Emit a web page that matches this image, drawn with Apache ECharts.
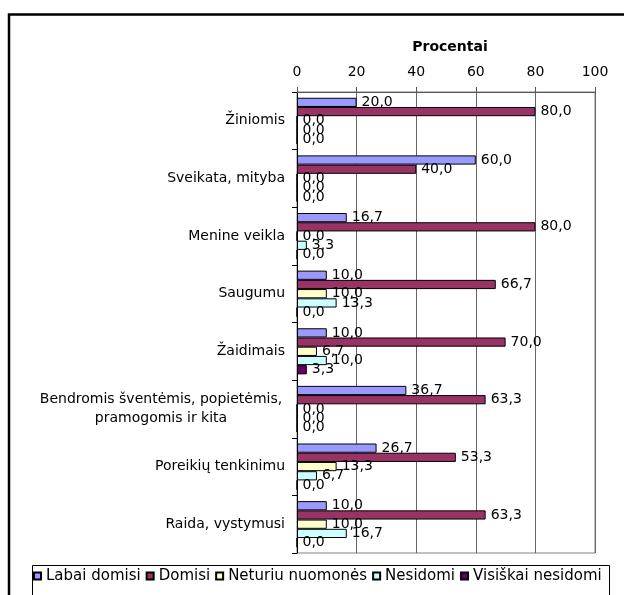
<!DOCTYPE html>
<html>
<head>
<meta charset="utf-8">
<script src="https://cdn.jsdelivr.net/npm/echarts@6/dist/echarts.min.js"></script>
<style>html,body{margin:0;padding:0;background:#fff}#c{width:624px;height:595px}</style>
</head>
<body>
<div id="c"></div>
<script>
const categories = [
  'Žiniomis',
  'Sveikata, mityba',
  'Menine veikla',
  'Saugumu',
  'Žaidimais',
  'Bendromis šventėmis, popietėmis,\npramogomis ir kita',
  'Poreikių tenkinimu',
  'Raida, vystymusi'
];
const seriesNames = ['Labai domisi', 'Domisi', 'Neturiu nuomonės', 'Nesidomi', 'Visiškai nesidomi'];
const labaiDomisi = [20.0, 60.0, 16.7, 10.0, 10.0, 36.7, 26.7, 10.0];
const domisi = [80.0, 40.0, 80.0, 66.7, 70.0, 63.3, 53.3, 63.3];
const neturiuNuomones = [0.0, 0.0, 0.0, 10.0, 6.7, 0.0, 13.3, 10.0];
const nesidomi = [0.0, 0.0, 3.3, 13.3, 10.0, 0.0, 6.7, 16.7];
const visiskaiNesidomi = [0.0, 0.0, 0.0, 0.0, 3.3, 0.0, 0.0, 0.0];
const xTicks = [0, 20, 40, 60, 80, 100];
const axisTitle = 'Procentai';

const colors = ['#9999FF', '#993366', '#FFFFCC', '#CCFFFF', '#660066'];
const values = [labaiDomisi, domisi, neturiuNuomones, nesidomi, visiskaiNesidomi];
const FONT = 'DejaVu Sans';

const chart = echarts.init(document.getElementById('c'), null, {renderer: 'canvas'});
const fmt = v => v.toFixed(1).replace('.', ',');

chart.setOption({
  animation: false,
  backgroundColor: '#fff',
  textStyle: {fontFamily: FONT},
  title: {
    text: axisTitle,
    left: 445, top: 35, textAlign: 'center',
    textStyle: {fontFamily: FONT, fontSize: 14, fontWeight: 'bold', color: '#000'}
  },
  legend: {
    data: seriesNames,
    left: 33, top: 568,
    padding: 0,
    itemGap: 5,
    itemWidth: 7, itemHeight: 7,
    icon: 'rect',
    textStyle: {fontFamily: FONT, fontSize: 15, color: '#000', lineHeight: 16}
  },
  grid: {
    left: 297, right: 29, top: 92, bottom: 42,
    show: true, borderColor: '#808080', borderWidth: 1, backgroundColor: '#fff'
  },
  xAxis: {
    type: 'value', position: 'top',
    min: xTicks[0], max: xTicks[xTicks.length - 1], interval: xTicks[1] - xTicks[0],
    axisLine: {show: true, lineStyle: {color: '#555', width: 1}},
    axisTick: {show: true, length: 5, lineStyle: {color: '#555'}},
    splitLine: {show: true, lineStyle: {color: '#666', width: 1}},
    axisLabel: {fontFamily: FONT, fontSize: 14, color: '#000', margin: 13}
  },
  yAxis: {
    type: 'category', inverse: true, data: categories,
    axisLine: {show: true, lineStyle: {color: '#000', width: 1}},
    axisTick: {show: true, length: 5, lineStyle: {color: '#000'}},
    splitLine: {show: false},
    axisLabel: {
      fontFamily: FONT, fontSize: 14, color: '#000', margin: 12, lineHeight: 19,
      formatter: function (v) {
        if (v.indexOf('\n') >= 0) {
          return v.split('\n').map(s => '{c|' + s + '}').join('\n');
        }
        return v;
      },
      rich: {c: {width: 248, align: 'center', fontFamily: FONT, fontSize: 14, color: '#000', lineHeight: 19}}
    }
  },
  series: seriesNames.map((name, i) => ({
    name: name,
    type: 'bar',
    data: values[i],
    barGap: '0%',
    barCategoryGap: '20%',
    itemStyle: {color: colors[i], borderColor: '#000', borderWidth: 1},
    label: {
      show: true, position: 'right', distance: 5,
      fontFamily: FONT, fontSize: 14, color: '#000',
      formatter: p => fmt(p.value)
    }
  })),
  graphic: [
    {type: 'polyline', silent: true, z: 100,
     shape: {points: [[9, 600], [9, 14.5], [630, 14.5]]},
     style: {stroke: '#000', lineWidth: 2.5, fill: null}},
    {type: 'rect', silent: true, z: -1,
     shape: {x: 32.5, y: 565.5, width: 577, height: 60},
     style: {stroke: '#000', lineWidth: 1, fill: '#fff'}}
  ]
});
</script>
</body>
</html>
